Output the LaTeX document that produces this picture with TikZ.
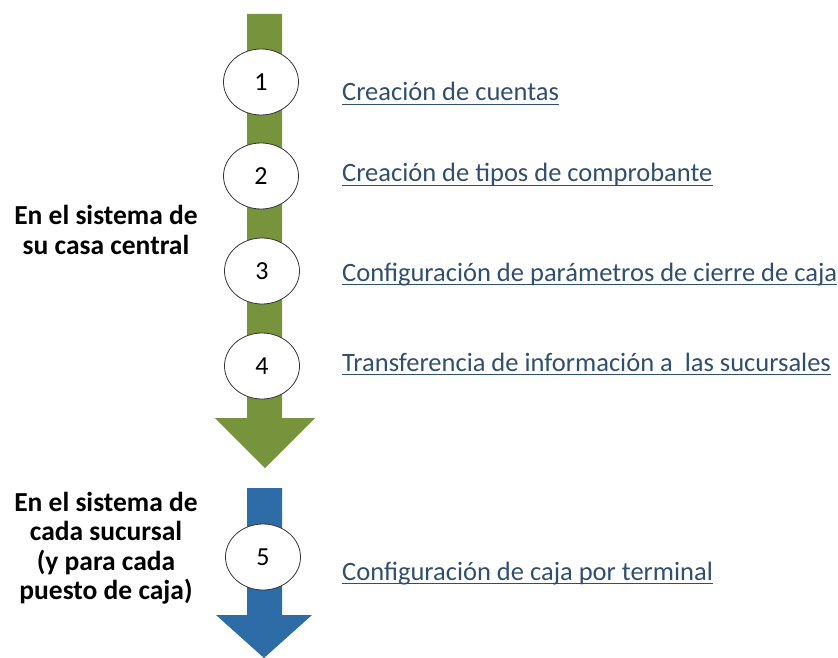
\documentclass[tikz,border=0pt]{standalone}
\usepackage{fontspec}
\setmainfont{Carlito}
\usetikzlibrary{shapes.geometric}

\definecolor{olive}{RGB}{119,147,60}
\definecolor{steel}{RGB}{46,108,168}
\definecolor{linkblue}{RGB}{48,78,112}

\tikzset{
    step num/.style={ellipse, draw=black!80, line width=0.8pt, fill=white,
        minimum width=75pt, minimum height=66pt, inner sep=0pt,
        font=\fontsize{26}{30}\selectfont},
    link text/.style={anchor=base west, inner sep=0pt, text=linkblue,
        font=\fontsize{26.5}{30}\selectfont},
    link line/.style={draw=linkblue, line width=1.3pt},
    side text/.style={align=center, inner sep=0pt,
        font=\fontsize{27.5}{29.5}\selectfont\bfseries}
}

\begin{document}
\begin{tikzpicture}[x=1pt, y=-1pt]
\useasboundingbox (0,0) rectangle (838,658);
% arrow for casa central
\coordinate (G1) at (247,14);
\coordinate (G2) at (282,14);
\coordinate (G3) at (282,418);
\coordinate (G4) at (315,418);
\coordinate (G5) at (265,468);
\coordinate (G6) at (215,418);
\coordinate (G7) at (247,418);
\fill[olive] (G1)--(G2)--(G3)--(G4)--(G5)--(G6)--(G7)--cycle;
% arrow for sucursal
\coordinate (B1) at (247,488);
\coordinate (B2) at (282,488);
\coordinate (B3) at (282,615);
\coordinate (B4) at (312,615);
\coordinate (B5) at (264,658);
\coordinate (B6) at (216,615);
\coordinate (B7) at (247,615);
\fill[steel] (B1)--(B2)--(B3)--(B4)--(B5)--(B6)--(B7)--cycle;
% steps
\node[step num] (S1) at (261,82) {1};
\node[step num] (S2) at (261,176) {2};
\node[step num] (S3) at (262,271) {3};
\node[step num] (S4) at (262,366) {4};
\node[step num] (S5) at (263,557) {5};
\node[link text] (T1) at (342,101) {Creación de cuentas};
\node[link text] (T2) at (342,182) {Creación de tipos de comprobante};
\node[link text] (T3) at (342,281) {Configuración de parámetros de cierre de caja};
\node[link text] (T4) at (342,371) {Transferencia de información a\ \ las sucursales};
\node[link text] (T5) at (342,580) {Configuración de caja por terminal};
\draw[link line] ([yshift=-3.5pt]T1.base west) -- ([yshift=-3.5pt]T1.base east);
\draw[link line] ([yshift=-3.5pt]T2.base west) -- ([yshift=-3.5pt]T2.base east);
\draw[link line] ([yshift=-3.5pt]T3.base west) -- ([yshift=-3.5pt]T3.base east);
\draw[link line] ([yshift=-3.5pt]T4.base west) -- ([yshift=-3.5pt]T4.base east);
\draw[link line] ([yshift=-3.5pt]T5.base west) -- ([yshift=-3.5pt]T5.base east);
% side labels
\node[side text] (central) at (106,230) {En el sistema de\\su casa central};
\node[side text] (sucursal) at (106,548) {En el sistema de\\cada sucursal\\(y para cada\\puesto de caja)};
\end{tikzpicture}
\end{document}
